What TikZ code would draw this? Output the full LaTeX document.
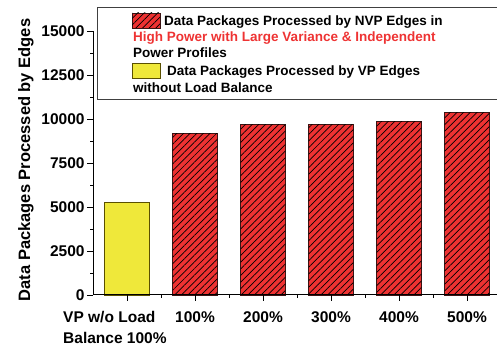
\documentclass[tikz,border=0pt]{standalone}
\usepackage{fontspec}
\setmainfont{Liberation Sans}
\usepackage{tikz}
\usetikzlibrary{patterns.meta}
\definecolor{barred}{HTML}{EE3232}
\definecolor{baryellow}{HTML}{EFE83A}
\definecolor{yellowedge}{HTML}{5A5000}
\definecolor{rededge}{HTML}{3C1414}
\definecolor{legendred}{HTML}{EE3333}
\tikzset{
	nvpbar/.style={draw=rededge, line width=0.8pt, fill=barred,
		postaction={pattern={Lines[angle=45,distance=4.7pt,line width=0.7pt]}, pattern color=black}},
	vpbar/.style={draw=yellowedge, line width=0.9pt, fill=baryellow},
	ticklabel/.style={font=\fontsize{15.5}{21}\selectfont\bfseries, inner sep=0pt},
	legendtext/.style={font=\fontsize{13.5}{16}\selectfont\bfseries, inner sep=0pt, anchor=base west},
	legendbox/.style={draw=black!75, line width=0.9pt}
}

\begin{document}
\begin{tikzpicture}[x=1pt,y=1pt]
	\useasboundingbox (0,0) rectangle (497,350);
	% y in thousands of packages
	\begin{scope}[shift={(93,55)}, x=68pt, y=17.6pt]
		\draw[vpbar] (0.17,0) rectangle (0.83,5.25);
		\foreach \i/\v in {1/9.2,2/9.7,3/9.7,4/9.85,5/10.35}
			\draw[nvpbar] (\i+0.17,0) rectangle (\i+0.83,\v);
		% axes and ticks
		\draw[line width=1pt] (0,15) -- (0,0) -- (6,0);
		\foreach \t/\lab in {0/0,2.5/2500,5/5000,7.5/7500,10/10000,12.5/12500,15/15000}
			\draw[line width=0.8pt] (0,\t) -- ++(-6pt,0) node[ticklabel, anchor=east, xshift=-2pt] (y\lab) {\lab};
		\foreach \t in {1.25,3.75,...,13.75}
			\draw[line width=0.8pt] (0,\t) -- ++(-3pt,0);
		\foreach \i in {0.5,1.5,...,5.5}
			\draw[line width=0.8pt] (\i,0) -- ++(0,-6pt);
		\foreach \i in {1,...,6}
			\draw[line width=0.8pt] (\i,0) -- ++(0,-3pt);
		\foreach \i/\p in {1.5/100,2.5/200,3.5/300,4.5/400,5.5/500}
			\node[ticklabel, anchor=base, yshift=-28pt] (x\p) at (\i,0) {\p\%};
	\end{scope}
	\node[ticklabel, anchor=north west, align=left] (xvp) at (63,39) {VP w/o Load\\Balance 100\%};
	\node[rotate=90, anchor=base, inner sep=0pt, font=\fontsize{16.5}{20}\selectfont\bfseries] (ytitle) at (30,190) {Data Packages Processed by Edges};
	% legend
	\draw[legendbox] (97,251) rectangle (500,343);
	\draw[nvpbar] (132,322) rectangle (160,337);
	\node[legendtext] (leg1) at (164,324) {Data Packages Processed by NVP Edges in};
	\node[legendtext, text=legendred] (leg2) at (133,308) {High Power with Large Variance \& Independent};
	\node[legendtext] (leg3) at (133,292) {Power Profiles};
	\draw[vpbar] (132,272) rectangle (160,287);
	\node[legendtext] (leg4) at (167,274) {Data Packages Processed by VP Edges};
	\node[legendtext] (leg5) at (133,257) {without Load Balance};
\end{tikzpicture}
\end{document}
